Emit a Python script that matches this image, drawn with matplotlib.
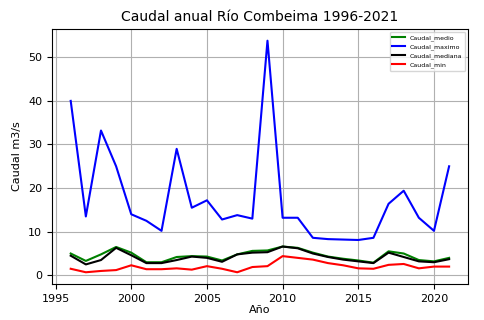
import matplotlib.pyplot as plt

years = list(range(1996, 2022))
caudal_medio = [5.0, 3.3, 4.8, 6.5, 5.2, 3.0, 3.0, 4.2, 4.4, 4.3, 3.4, 4.8, 5.6, 5.7, 6.6, 6.3, 5.2, 4.3, 3.8, 3.4, 2.9, 5.5, 5.0, 3.5, 3.2, 4.0]
caudal_maximo = [40.0, 13.5, 33.2, 25.0, 14.0, 12.5, 10.2, 29.0, 15.5, 17.2, 12.8, 13.8, 13.0, 53.8, 13.2, 13.2, 8.6, 8.3, 8.2, 8.1, 8.6, 16.4, 19.4, 13.2, 10.2, 25.0]
caudal_mediana = [4.5, 2.5, 3.5, 6.3, 4.6, 2.8, 2.8, 3.5, 4.3, 4.0, 3.1, 4.8, 5.2, 5.3, 6.6, 6.2, 5.0, 4.2, 3.6, 3.2, 2.8, 5.2, 4.2, 3.2, 3.0, 3.7]
caudal_min = [1.5, 0.7, 1.0, 1.2, 2.3, 1.4, 1.4, 1.6, 1.3, 2.1, 1.5, 0.7, 1.9, 2.1, 4.4, 4.0, 3.6, 2.8, 2.3, 1.6, 1.5, 2.4, 2.6, 1.6, 2.0, 2.0]

fig, ax = plt.subplots(figsize=(4.84, 3.2), dpi=100)
fig.subplots_adjust(left=0.107, right=0.967, top=0.909, bottom=0.113)

ax.plot(years, caudal_medio, color="green", label="Caudal_medio")
ax.plot(years, caudal_maximo, color="blue", label="Caudal_maximo")
ax.plot(years, caudal_mediana, color="black", label="Caudal_mediana")
ax.plot(years, caudal_min, color="red", label="Caudal_min")

ax.set_title("Caudal anual Río Combeima 1996-2021", fontsize=10)
ax.set_xlabel("Año", fontsize=8, labelpad=1)
ax.set_ylabel("Caudal m3/s", fontsize=8)
ax.tick_params(labelsize=8)
ax.set_xticks([1995, 2000, 2005, 2010, 2015, 2020])
ax.set_yticks([0, 10, 20, 30, 40, 50])
ax.grid(True)
ax.legend(loc="upper right", fontsize=4.5)

plt.savefig("out.png", dpi=100)
